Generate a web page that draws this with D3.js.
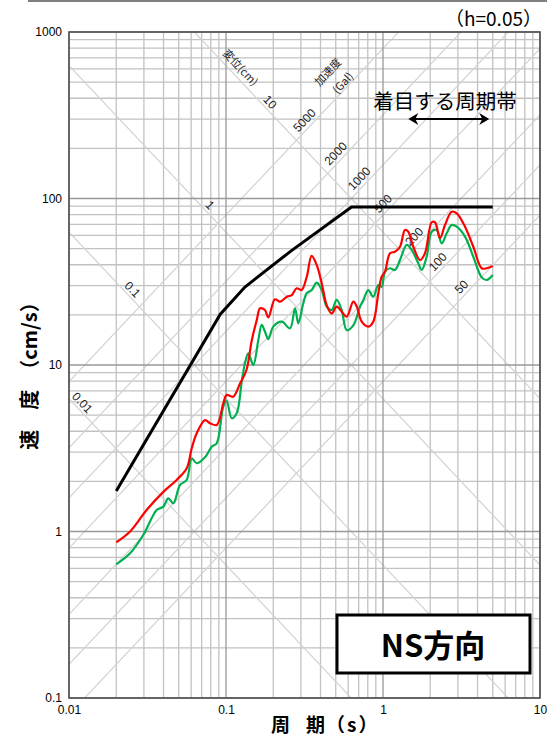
<!DOCTYPE html>
<html><head><meta charset="utf-8">
<script src="https://cdn.jsdelivr.net/npm/d3@7"></script>
<style>body{margin:0;background:#fff;} svg{display:block;}</style>
</head><body>
<svg id="c" width="547" height="738"></svg>
<script>
// ---------------- data ----------------
const xTicks = [0.01, 0.1, 1, 10];
const yTicks = [0.1, 1, 10, 100, 1000];
const dispLines = [0.01, 0.1, 1, 10];                       // cm
const dispLabels = [10, 1, 0.1, 0.01];
const dispLabelT = [0.177, 0.0735, 0.0236, 0.0113];
const accLines = [50, 100, 200, 500, 1000, 2000, 5000];      // Gal
const accLabels = [5000, 2000, 1000, 500, 200, 100, 50];

const designT = [0.02, 0.092, 0.132, 0.26, 0.63, 5.0];
const designV = [1.75, 20.2, 29.4, 48.5, 89, 89];

const redT = [0.020,0.0245,0.0313,0.0399,0.0485,0.0562,0.0605,0.0651,0.0735,0.0791,0.0873,0.0961,0.101,0.111,0.123,0.135,0.146,0.157,0.165,0.177,0.186,0.205,0.221,0.244,0.262,0.282,0.303,0.327,0.351,0.378,0.407,0.438,0.471,0.507,0.546,0.587,0.647,0.680,0.732,0.806,0.867,0.934,0.981,1.03,1.108,1.192,1.283,1.381,1.449,1.560,1.721,1.851,2.043,2.144,2.307,2.482,2.739,2.948,3.330,3.760,4.253,4.576,5.0];
const redV = [0.86,1.00,1.35,1.73,2.04,2.40,3.16,3.89,4.67,4.47,4.36,5.89,6.60,6.45,7.76,9.33,14.1,18.6,21.9,21.4,19.3,24.8,24.0,25.7,26.3,28.9,28.2,33.9,45.2,39.9,31.0,22.9,20.4,22.4,20.9,19.5,24.0,22.5,18.2,17.0,18.2,27.0,33.9,36.4,46.9,47.9,51.3,64.7,63.2,51.3,42.7,46.9,72.0,72.0,57.7,69.3,83.3,81.5,67.7,51.3,38.1,38.1,39.3];

const greenT = [0.020,0.0245,0.0297,0.0362,0.0399,0.0429,0.0462,0.0509,0.0562,0.0605,0.0651,0.0735,0.0811,0.0873,0.0961,0.101,0.1087,0.117,0.1259,0.1321,0.1387,0.1492,0.1606,0.1688,0.1772,0.1860,0.2001,0.2264,0.2556,0.2751,0.2887,0.3107,0.3266,0.3514,0.3781,0.4071,0.4379,0.4711,0.5071,0.5455,0.5871,0.647,0.714,0.749,0.806,0.867,0.934,0.981,1.03,1.108,1.192,1.283,1.416,1.523,1.678,1.764,1.898,2.043,2.198,2.365,2.545,2.739,2.948,3.330,3.760,4.253,4.576,5.0];
const greenV = [0.635,0.74,0.953,1.346,1.41,1.58,1.48,1.90,2.04,2.75,2.57,2.79,3.23,3.39,5.62,6.10,4.79,5.13,7.94,10.24,11.76,10.0,14.1,17.4,15.85,14.3,17.0,18.2,16.6,21.9,17.8,23.5,27.0,28.2,31.2,28.2,22.4,21.4,24.6,21.4,16.2,17.3,22.4,24.5,28.2,25.7,30.2,29.5,36.4,38.1,37.2,42.7,52.6,49.1,40.8,37.2,44.7,63.2,64.7,53.8,61.8,69.3,67.7,59.0,44.7,33.6,32.4,34.7];

const bandT = [1.45, 4.75];

// ---------------- layout ----------------
const M = {left: 69, right: 540, top: 32, bottom: 698};
const x = d3.scaleLog().domain([0.01, 10]).range([M.left, M.right]);
const y = d3.scaleLog().domain([0.1, 1000]).range([M.bottom, M.top]);
const svg = d3.select("#c");
const NUM = "'Liberation Sans', Arial, sans-serif";
const CJK = "'Noto Sans CJK JP', sans-serif";
const TWO_PI = 2 * Math.PI;

svg.append("rect").attr("width", 547).attr("height", 738).attr("fill", "#fff");
svg.append("line").attr("x1", 28).attr("x2", 547).attr("y1", 1).attr("y2", 1)
  .attr("stroke", "#7f7f7f").attr("stroke-width", 2);

svg.append("defs").append("clipPath").attr("id", "clip").append("rect")
  .attr("x", M.left).attr("y", M.top).attr("width", M.right - M.left).attr("height", M.bottom - M.top);

// minor grid
const xMinor = [], yMinor = [];
[0.01, 0.1, 1].forEach(d => { for (let k = 2; k <= 9; k++) xMinor.push(d * k); });
[0.1, 1, 10, 100].forEach(d => { for (let k = 2; k <= 9; k++) yMinor.push(d * k); });
const grid = svg.append("g");
grid.selectAll(".vm").data(xMinor).join("line")
  .attr("x1", d => x(d)).attr("x2", d => x(d)).attr("y1", M.top).attr("y2", M.bottom)
  .attr("stroke", "#c2c2c2").attr("stroke-width", 1.3);
grid.selectAll(".hm").data(yMinor).join("line")
  .attr("y1", d => y(d)).attr("y2", d => y(d)).attr("x1", M.left).attr("x2", M.right)
  .attr("stroke", "#c2c2c2").attr("stroke-width", 1.3);

// diagonal lines
const diag = svg.append("g").attr("clip-path", "url(#clip)");
const T0 = 0.001, T1 = 100;
diag.selectAll(".d").data(dispLines).join("line")
  .attr("x1", x(T0)).attr("x2", x(T1))
  .attr("y1", D => y(TWO_PI * D / T0)).attr("y2", D => y(TWO_PI * D / T1))
  .attr("stroke", "#d2d2d2").attr("stroke-width", 1.2);
diag.selectAll(".a").data(accLines).join("line")
  .attr("x1", x(T0)).attr("x2", x(T1))
  .attr("y1", A => y(A * T0 / TWO_PI)).attr("y2", A => y(A * T1 / TWO_PI))
  .attr("stroke", "#d2d2d2").attr("stroke-width", 1.2);

// major grid
const gridM = svg.append("g");
gridM.selectAll(".vM").data(xTicks).join("line")
  .attr("x1", d => x(d)).attr("x2", d => x(d)).attr("y1", M.top).attr("y2", M.bottom)
  .attr("stroke", "#999").attr("stroke-width", 1.3);
gridM.selectAll(".hM").data(yTicks).join("line")
  .attr("y1", d => y(d)).attr("y2", d => y(d)).attr("x1", M.left).attr("x2", M.right)
  .attr("stroke", "#999").attr("stroke-width", 1.3);

const ang = Math.atan2(y(0.1) - y(1), x(10) - x(1)) * 180 / Math.PI;

// displacement labels
const lab = svg.append("g");
dispLabels.forEach((D, i) => {
  const T = dispLabelT[i];
  lab.append("text").attr("transform", `translate(${x(T)},${y(TWO_PI * D / T)}) rotate(${ang})`)
    .attr("y", -7).attr("dy", "0.35em").attr("text-anchor", "middle")
    .attr("font-family", NUM).attr("font-size", 12).attr("fill", "#222").text(D);
});
{
  const D = 10, T = 0.112;
  lab.append("text").attr("transform", `translate(${x(T)},${y(TWO_PI * D / T)}) rotate(${ang})`)
    .attr("y", -9).attr("dy", "0.35em").attr("text-anchor", "middle")
    .attr("font-family", CJK).attr("font-size", 11).attr("fill", "#222").text("変位(cm)");
}
// acceleration labels, placed just past the crossing with the 10 cm line
accLabels.forEach(A => {
  const Ti = TWO_PI * Math.sqrt(10 / A), Vi = Math.sqrt(10 * A);
  lab.append("text").attr("transform", `translate(${x(Ti)},${y(Vi)}) rotate(${-ang})`)
    .attr("x", 20).attr("y", -8).attr("dy", "0.35em").attr("text-anchor", "middle")
    .attr("font-family", NUM).attr("font-size", 12).attr("fill", "#222").text(A);
});
lab.append("text").attr("transform", `translate(328,72) rotate(${-ang})`)
  .attr("dy", "0.35em").attr("text-anchor", "middle")
  .attr("font-family", CJK).attr("font-size", 11).attr("fill", "#222").text("加速度");
lab.append("text").attr("transform", `translate(343,83) rotate(${-ang})`)
  .attr("dy", "0.35em").attr("text-anchor", "middle")
  .attr("font-family", CJK).attr("font-size", 11).attr("fill", "#222").text("(Gal)");

// frame
svg.append("rect").attr("x", M.left).attr("y", M.top).attr("width", M.right - M.left).attr("height", M.bottom - M.top)
  .attr("fill", "none").attr("stroke", "#505050").attr("stroke-width", 1.6);

// axes
const xAxis = svg.append("g").attr("transform", `translate(0,${M.bottom})`)
  .call(d3.axisBottom(x).tickValues(xTicks).tickSize(0).tickPadding(7).tickFormat(d => String(d)));
const yAxis = svg.append("g").attr("transform", `translate(${M.left},0)`)
  .call(d3.axisLeft(y).tickValues(yTicks).tickSize(0).tickPadding(7).tickFormat(d => String(d)));
[xAxis, yAxis].forEach(a => {
  a.select(".domain").remove();
  a.selectAll("text").attr("font-family", NUM).attr("font-size", 12).attr("fill", "#000");
});

// curves
const plot = svg.append("g").attr("clip-path", "url(#clip)");
const line = d3.line().x(d => x(d[0])).y(d => y(d[1]));
plot.append("path").datum(designT.map((t, i) => [t, designV[i]]))
  .attr("d", line).attr("fill", "none").attr("stroke", "#000").attr("stroke-width", 3).attr("stroke-linejoin", "miter");
const smooth = d3.line().x(d => x(d[0])).y(d => y(d[1])).curve(d3.curveCatmullRom.alpha(0.5));
plot.append("path").datum(greenT.map((t, i) => [t, greenV[i]]))
  .attr("d", smooth).attr("fill", "none").attr("stroke", "#00b050").attr("stroke-width", 2.2);
plot.append("path").datum(redT.map((t, i) => [t, redV[i]]))
  .attr("d", smooth).attr("fill", "none").attr("stroke", "#ff0000").attr("stroke-width", 2.2);

// focus band annotation
svg.append("text").attr("x", 445).attr("y", 109).attr("text-anchor", "middle")
  .attr("font-family", CJK).attr("font-size", 20.5).attr("fill", "#000").text("着目する周期帯");
const ay = 119, ax0 = x(bandT[0]), ax1 = x(bandT[1]);
svg.append("line").attr("x1", ax0 + 4).attr("x2", ax1 - 4).attr("y1", ay).attr("y2", ay)
  .attr("stroke", "#000").attr("stroke-width", 2);
svg.append("path").attr("d", `M${ax0},${ay} l10,-6 l-3,6 l3,6 z`).attr("fill", "#000");
svg.append("path").attr("d", `M${ax1},${ay} l-10,-6 l3,6 l-3,6 z`).attr("fill", "#000");

// damping note
svg.append("text").attr("x", 542).attr("y", 26).attr("text-anchor", "end")
  .attr("font-family", CJK).attr("font-size", 19).attr("fill", "#000").text("（h=0.05）");

// NS box
svg.append("rect").attr("x", 337).attr("y", 615).attr("width", 193).attr("height", 58)
  .attr("fill", "#fff").attr("stroke", "#000").attr("stroke-width", 3);
svg.append("text").attr("x", 433).attr("y", 646).attr("dy", "0.36em").attr("text-anchor", "middle")
  .attr("font-family", CJK).attr("font-weight", 700).attr("font-size", 31).attr("fill", "#000").text("NS方向");

// axis titles
const xt = svg.append("text").attr("x", 271).attr("y", 732)
  .attr("font-family", CJK).attr("font-weight", 700).attr("font-size", 19).attr("fill", "#000");
xt.append("tspan").text("周");
xt.append("tspan").attr("dx", 16).text("期");
xt.append("tspan").attr("dx", 1).attr("letter-spacing", 2).text("（s）");
svg.append("text").attr("transform", "translate(37,371) rotate(-90)").attr("text-anchor", "middle")
  .attr("font-family", CJK).attr("font-weight", 700).attr("font-size", 20).attr("fill", "#000")
  .text("速　度　（cm/s）");
</script>
</body></html>
